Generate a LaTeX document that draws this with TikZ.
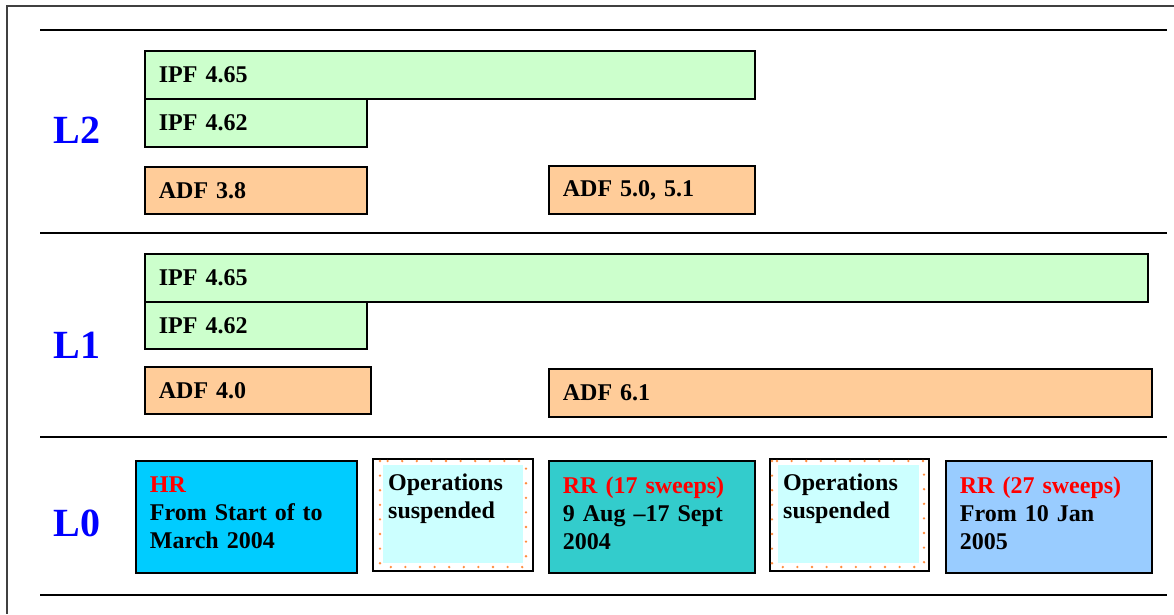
\documentclass[tikz,border=0pt]{standalone}
\usepackage{fontspec}
\setmainfont{Liberation Serif}
\usetikzlibrary{positioning}

\definecolor{ipfgreen}{RGB}{204,255,204}
\definecolor{adforange}{RGB}{255,204,153}
\definecolor{hrcyan}{RGB}{0,204,255}
\definecolor{rrteal}{RGB}{51,204,204}
\definecolor{rrblue}{RGB}{153,204,255}
\definecolor{opscyan}{RGB}{204,255,255}
\definecolor{dotorange}{RGB}{255,140,60}
\definecolor{levelblue}{RGB}{0,0,255}

\begin{document}
\begin{tikzpicture}[x=1pt,y=-1pt,
    bar/.style={draw, line width=1.8pt, anchor=north west, inner xsep=14pt,
      inner ysep=0pt, align=left, font=\fontsize{24}{28}\selectfont\bfseries},
    lzbox/.style={draw, line width=1.8pt, anchor=north west, inner xsep=14pt,
      inner ysep=0pt, minimum height=112pt, align=left,
      font=\fontsize{24}{28}\selectfont\bfseries},
    opsbox/.style={fill=opscyan, anchor=north west, inner xsep=5pt,
      inner ysep=0pt, minimum height=98pt, align=left,
      font=\fontsize{24}{28}\selectfont\bfseries},
    level/.style={text=levelblue, font=\fontsize{40}{44}\selectfont\bfseries},
    rule/.style={line width=1.7pt},
    dots/.style={dotorange, line width=2.6pt, line cap=round, dash pattern=on 0pt off 14.6pt}]
    \useasboundingbox (0,0) rectangle (1174,614);

    % outer frame
    \draw[line width=1.6pt, black!75] (1174,6) -- (7,6) -- (7,614);

    % rules between the levels
    \foreach \y in {30,233,437,595}
        \draw[rule] (40,\y) -- (1167,\y);

    % level labels
    \node[level] (ltwo) at (77,130) {L2};
    \node[level] (lone) at (77,345) {L1};
    \node[level] (lzero) at (77,523) {L0};

    % L2
    \node[bar, fill=ipfgreen, text width=582pt, minimum height=48pt] (ltwoipfa) at (144,50) {IPF 4.65};
    \node[bar, fill=ipfgreen, text width=194pt, minimum height=48pt] (ltwoipfb) at (144,98) {IPF 4.62};
    \node[bar, fill=adforange, text width=194pt, minimum height=47pt] (ltwoadfa) at (144,166) {ADF 3.8};
    \node[bar, fill=adforange, text width=178pt, minimum height=48pt] (ltwoadfb) at (548,165) {ADF 5.0, 5.1};

    % L1
    \node[bar, fill=ipfgreen, text width=975pt, minimum height=48pt] (loneipfa) at (144,253) {IPF 4.65};
    \node[bar, fill=ipfgreen, text width=194pt, minimum height=47pt] (loneipfb) at (144,301) {IPF 4.62};
    \node[bar, fill=adforange, text width=198pt, minimum height=47pt] (loneadfa) at (144,366) {ADF 4.0};
    \node[bar, fill=adforange, text width=575pt, minimum height=48pt] (loneadfb) at (548,368) {ADF 6.1};

    % L0
    \node[lzbox, fill=hrcyan, text width=193pt] (hr) at (135,460)
        {\parbox[c][80pt][t]{193pt}{\textcolor{red}{HR}\\From Start of to\\March 2004}};
    \node[lzbox, fill=rrteal, text width=178pt] (rrone) at (548,460)
        {\parbox[c][80pt][t]{178pt}{\textcolor{red}{RR (17 sweeps)}\\9 Aug –17 Sept\\2004}};
    \node[lzbox, fill=rrblue, text width=178pt] (rrtwo) at (945,460)
        {\parbox[c][80pt][t]{178pt}{\textcolor{red}{RR (27 sweeps)}\\From 10 Jan\\2005}};

    % suspended periods
    \draw[line width=1.8pt, fill=white] (373,459) rectangle (533,571);
    \draw[dots] (380,461) rectangle (526,567);
    \node[opsbox, minimum width=140pt, text width=130pt] (opsone) at (383,465)
        {\parbox[c][80pt][t]{130pt}{Operations\\suspended}};

    \draw[line width=1.8pt, fill=white] (770,459) rectangle (929,571);
    \draw[dots] (772,461) rectangle (924,567);
    \node[opsbox, minimum width=141pt, text width=131pt] (opstwo) at (778,465)
        {\parbox[c][80pt][t]{131pt}{Operations\\suspended}};

\end{tikzpicture}
\end{document}
